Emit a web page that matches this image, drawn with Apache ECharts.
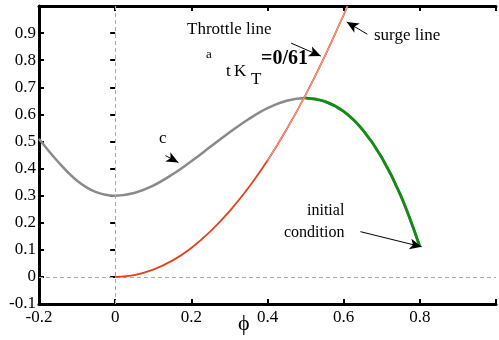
<!DOCTYPE html>
<html>
<head>
<meta charset="utf-8">
<script src="https://cdn.jsdelivr.net/npm/echarts@6/dist/echarts.min.js"></script>
<style>
html,body{margin:0;padding:0;background:#fff;}
#c{width:499px;height:340px;}
</style>
</head>
<body>
<div id="c"></div>
<script>
// Compressor characteristic (gray)
var charPhi = [-0.2, -0.15, -0.1, -0.05, 0, 0.05, 0.1, 0.15, 0.2, 0.25, 0.3, 0.35, 0.4, 0.45, 0.5, 0.55, 0.6, 0.65, 0.7, 0.75, 0.8];
var charPsi = [0.51, 0.425, 0.355, 0.313, 0.30, 0.31, 0.337, 0.378, 0.427, 0.48, 0.533, 0.582, 0.623, 0.65, 0.66, 0.648, 0.611, 0.543, 0.441, 0.30, 0.112];
// Trajectory (green) from peak to initial condition
var trajPhi = [0.5, 0.55, 0.6, 0.65, 0.7, 0.75, 0.8];
var trajPsi = [0.66, 0.648, 0.611, 0.543, 0.441, 0.30, 0.112];
// Throttle / surge line (red)
var throtPhi = [0, 0.05, 0.1, 0.15, 0.2, 0.25, 0.3, 0.35, 0.4, 0.45, 0.5, 0.55, 0.6, 0.61];
var throtPsi = [0, 0.007, 0.027, 0.06, 0.107, 0.168, 0.242, 0.329, 0.43, 0.544, 0.672, 0.813, 0.967, 1.0];
// Axis ticks
var xTicks = [-0.2, 0, 0.2, 0.4, 0.6, 0.8];
var yTicks = [-0.1, 0, 0.1, 0.2, 0.3, 0.4, 0.5, 0.6, 0.7, 0.8, 0.9];
// Annotation arrows [fromPhi, fromPsi, toPhi, toPsi]
var arrowThrottle = [0.462, 0.863, 0.540, 0.815];
var arrowSurge = [0.662, 0.896, 0.608, 0.941];
var arrowC = [0.132, 0.448, 0.166, 0.422];
var arrowInit = [0.644, 0.167, 0.805, 0.111];

function zip(a, b) { return a.map(function (v, i) { return [v, b[i]]; }); }
function fmt(list) {
  return function (v) {
    for (var i = 0; i < list.length; i++) if (Math.abs(list[i] - v) < 1e-6) return String(list[i]);
    return '';
  };
}
function arrow(a) { return [{ coord: [a[0], a[1]] }, { coord: [a[2], a[3]] }]; }

var SERIF = '"Liberation Serif", "Times New Roman", serif';
var chart = echarts.init(document.getElementById('c'), null, { renderer: 'canvas' });
var axisCommon = {
  type: 'value',
  splitLine: { show: false },
  axisLine: { show: true, onZero: false, lineStyle: { color: '#000', width: 3 } },
  axisTick: { show: true, inside: true, length: 5, lineStyle: { color: '#000', width: 2 } }
};
var throtPts = zip(throtPhi, throtPsi);
chart.setOption({
  animation: false,
  backgroundColor: '#fff',
  grid: { left: 39, top: 6, width: 460, height: 298 },
  xAxis: [
    Object.assign({}, axisCommon, {
      min: -0.2, max: 1.0, interval: 0.2, position: 'bottom',
      axisLabel: { margin: 5, color: '#000', fontFamily: SERIF, fontSize: 17, formatter: fmt(xTicks) }
    }),
    Object.assign({}, axisCommon, {
      min: -0.2, max: 1.0, interval: 0.2, position: 'top',
      axisLabel: { show: false }
    })
  ],
  yAxis: [
    Object.assign({}, axisCommon, {
      min: -0.1, max: 1.0, interval: 0.1, position: 'left',
      axisLabel: { margin: 3, color: '#000', fontFamily: SERIF, fontSize: 17, formatter: fmt(yTicks) }
    }),
    Object.assign({}, axisCommon, {
      min: -0.1, max: 1.0, interval: 0.1, position: 'right',
      axisLine: { show: false },
      axisLabel: { show: false }
    })
  ],
  series: [
    {
      type: 'line', data: [], silent: true,
      markLine: {
        silent: true, symbol: ['none', 'none'], label: { show: false },
        lineStyle: { color: '#aaa', type: [4, 3], width: 1 },
        data: [{ xAxis: 0 }, { yAxis: 0 }]
      }
    },
    {
      type: 'line', data: zip(charPhi, charPsi), smooth: 0.4, showSymbol: false,
      lineStyle: { color: '#8a8a8a', width: 2.5 }, z: 3
    },
    {
      type: 'line', data: zip(trajPhi, trajPsi), smooth: 0.4, showSymbol: false,
      lineStyle: { color: '#128c12', width: 2.8 }, z: 4
    },
    {
      type: 'line', data: throtPts, smooth: 0.3, showSymbol: false,
      lineStyle: { color: '#e2401f', width: 1.8 }, z: 5
    },
    {
      type: 'line', data: throtPts.slice(8), smooth: 0.3, showSymbol: false,
      lineStyle: { color: '#fbe0d6', width: 0.7 }, z: 6
    },
    {
      type: 'line', data: [], silent: true,
      markLine: {
        silent: true, symbol: ['none', 'arrow'], symbolSize: [8, 12], label: { show: false },
        lineStyle: { color: '#000', type: 'solid', width: 1 },
        data: [arrow(arrowThrottle), arrow(arrowSurge), arrow(arrowC), arrow(arrowInit)]
      }
    }
  ],
  graphic: [
    { type: 'text', left: 187, top: 21, style: { text: 'Throttle line', font: '17px ' + SERIF, fill: '#000' } },
    { type: 'text', left: 206, top: 48, style: { text: 'a', font: '13px ' + SERIF, fill: '#000' } },
    { type: 'text', left: 226, top: 63, style: { text: 't', font: '17px ' + SERIF, fill: '#000' } },
    { type: 'text', left: 234, top: 63, style: { text: 'K', font: '17px ' + SERIF, fill: '#000' } },
    { type: 'text', left: 251, top: 71, style: { text: 'T', font: '17px ' + SERIF, fill: '#000' } },
    { type: 'text', left: 261, top: 49, style: { text: '=0/61', font: 'bold 20px ' + SERIF, fill: '#000' } },
    { type: 'text', left: 374, top: 27, style: { text: 'surge line', font: '17px ' + SERIF, fill: '#000' } },
    { type: 'text', left: 159, top: 130, style: { text: 'c', font: '17px ' + SERIF, fill: '#000' } },
    { type: 'text', left: 307, top: 203, style: { text: 'initial', font: '16px ' + SERIF, fill: '#000' } },
    { type: 'text', left: 284, top: 225, style: { text: 'condition', font: '16px ' + SERIF, fill: '#000' } },
    { type: 'text', left: 238, top: 313, style: { text: 'ϕ', font: '22px ' + SERIF, fill: '#000' } }
  ]
});
</script>
</body>
</html>
